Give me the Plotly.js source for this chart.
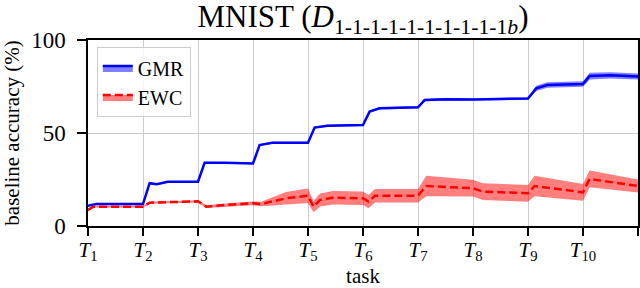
<!DOCTYPE html>
<html><head><meta charset="utf-8">
<script src="https://cdn.plot.ly/plotly-3.0.1.min.js"></script>
<style>html,body{margin:0;padding:0;background:#fff}#chart{width:640px;height:288px}</style>
</head><body><div id="chart"></div>
<script>
const seriesNames = ['GMR', 'EWC'];

const gmrX    = [1.00, 1.15, 2.00, 2.12, 2.25, 2.45, 3.00, 3.12, 3.50, 4.00, 4.12, 4.35, 5.00, 5.12, 5.35, 6.00, 6.12, 6.30, 7.00, 7.12, 7.50, 8.00, 8.50, 9.00, 9.15, 9.35, 10.00, 10.12, 10.50, 11.00];
const gmrMean = [10.9, 11.8, 11.8, 23.0, 22.4, 23.8, 23.8, 34.0, 34.0, 33.6, 43.5, 44.8, 44.8, 52.9, 53.9, 54.3, 61.5, 63.3, 63.8, 67.7, 68.2, 68.0, 68.3, 68.5, 74.0, 75.8, 76.3, 80.6, 81.0, 80.4];
const gmrStd  = [0.4, 0.4, 0.4, 0.5, 0.5, 0.4, 0.4, 0.5, 0.4, 0.4, 0.5, 0.5, 0.5, 0.5, 0.5, 0.5, 0.6, 0.6, 0.6, 0.6, 0.6, 0.6, 0.6, 0.6, 1.4, 1.5, 1.5, 1.8, 1.7, 1.6];

const ewcX    = [1.00, 1.10, 2.00, 2.12, 3.00, 3.15, 3.50, 4.00, 4.15, 4.60, 5.00, 5.10, 5.22, 5.45, 6.00, 6.10, 6.22, 7.00, 7.15, 8.00, 8.18, 9.00, 9.12, 10.00, 10.12, 11.00];
const ewcMean = [8.6, 10.4, 10.4, 12.5, 13.3, 10.4, 11.3, 12.2, 11.8, 14.9, 16.3, 10.4, 14.0, 15.2, 14.9, 13.1, 16.3, 16.3, 21.5, 20.3, 18.5, 17.6, 21.5, 18.1, 25.3, 21.5];
const ewcStd  = [0.8, 0.5, 0.5, 0.5, 0.6, 0.7, 0.8, 1.0, 1.2, 3.4, 3.9, 3.0, 3.5, 3.6, 3.6, 3.6, 3.6, 3.6, 5.5, 4.5, 4.5, 4.5, 5.5, 4.5, 4.5, 3.5];

const taskTicks  = [1, 2, 3, 4, 5, 6, 7, 8, 9, 10, 11];
const taskLabels = ['1', '2', '3', '4', '5', '6', '7', '8', '9', '10', ''];
const accTicks   = [0, 50, 100];

const FONT = 'Liberation Serif';
const BLUE = '#0000ff', BLUE_BAND = 'rgba(0,0,255,0.5)';
const RED = '#ff0000', RED_BAND = 'rgba(255,0,0,0.5)';

function band(x, m, s, color) {
  const xs = x.concat(x.slice().reverse());
  const up = m.map((v, i) => v + s[i]);
  const lo = m.map((v, i) => v - s[i]).reverse();
  return {x: xs, y: up.concat(lo), mode: 'lines', fill: 'toself', fillcolor: color,
          line: {width: 0}, hoverinfo: 'skip', showlegend: false};
}
function meanLine(x, m, color, dash) {
  return {x: x, y: m, mode: 'lines', line: {color: color, width: 2.5, dash: dash}, showlegend: false};
}
function legendItem(name, color, fillc, dash) {
  return {x: [null], y: [null], mode: 'lines', fill: 'toself', fillcolor: fillc,
          line: {color: color, width: 2.5, dash: dash}, name: name};
}

const traces = [
  band(gmrX, gmrMean, gmrStd, BLUE_BAND),
  meanLine(gmrX, gmrMean, BLUE, 'solid'),
  band(ewcX, ewcMean, ewcStd, RED_BAND),
  meanLine(ewcX, ewcMean, RED, '8px,4px'),
  legendItem(seriesNames[0], BLUE, BLUE_BAND, 'solid'),
  legendItem(seriesNames[1], RED, RED_BAND, '8px,4px')
];

const layout = {
  width: 640, height: 288,
  margin: {l: 88, r: 2, t: 40, b: 62},
  paper_bgcolor: '#fff', plot_bgcolor: '#fff',
  font: {family: FONT, size: 21, color: '#000'},
  title: {text: 'MNIST (<i>D</i><sub>1-1-1-1-1-1-1-1-1-1<i>b</i></sub>)',
          font: {family: FONT, size: 31, color: '#000'},
          x: 0.5, xref: 'paper', xanchor: 'center', y: 0.98, yref: 'container', yanchor: 'top'},
  xaxis: {range: [1, 11], tickvals: taskTicks,
          ticktext: taskLabels.map(t => t === '' ? '' : '<i>T</i><sub>' + t + '</sub>'),
          ticks: 'outside', ticklen: 8, tickwidth: 1.5, tickcolor: '#000',
          showline: true, linecolor: '#000', linewidth: 1.6, mirror: true,
          showgrid: true, gridcolor: '#cccccc', gridwidth: 1, zeroline: false,
          tickfont: {family: FONT, size: 21, color: '#000'}, ticklabelstandoff: -4,
          title: {text: 'task', font: {family: FONT, size: 21, color: '#000'}, standoff: 6}},
  yaxis: {range: [0, 100], tickvals: accTicks,
          ticks: 'outside', ticklen: 9, tickwidth: 1.5, tickcolor: '#000',
          showline: true, linecolor: '#000', linewidth: 1.6, mirror: true,
          showgrid: true, gridcolor: '#cccccc', gridwidth: 1, zeroline: false,
          tickfont: {family: FONT, size: 23, color: '#000'}, ticklabelstandoff: 7,
          title: {text: 'baseline accuracy (%)', font: {family: FONT, size: 21, color: '#000'}, standoff: 9}},
  legend: {x: 0.016, y: 0.96, xanchor: 'left', yanchor: 'top',
           bgcolor: 'rgba(255,255,255,0.8)', bordercolor: '#cccccc', borderwidth: 1,
           font: {family: FONT, size: 20, color: '#000'}, itemwidth: 30, tracegroupgap: 0},
  showlegend: true
};

Plotly.newPlot('chart', traces, layout, {staticPlot: true, displayModeBar: false});
</script>
</body></html>
